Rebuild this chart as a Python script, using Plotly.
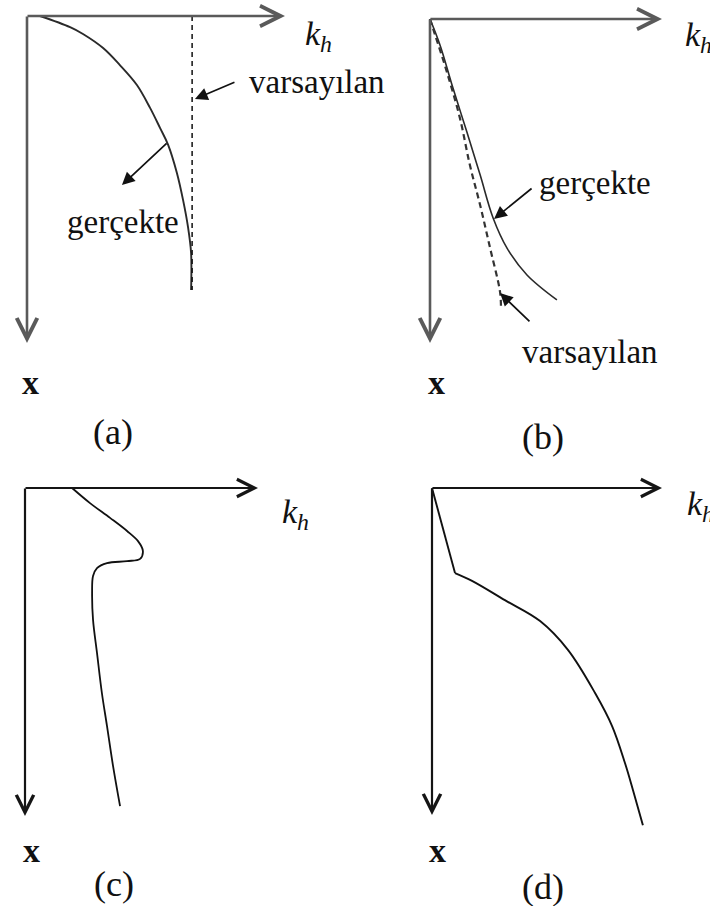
import plotly.graph_objects as go

# ---- curve data (k_h horizontally, depth x downward; 10 units = axis length) ----
# (a) real profile vs. assumed constant value
a_real_kh = [0.50, 1.67, 2.17, 2.95, 3.60, 4.26, 4.77, 5.16, 5.47, 5.81, 6.05, 6.24, 6.36, 6.36]
a_real_x = [0.00, 0.34, 0.55, 0.98, 1.50, 2.11, 2.81, 3.43, 3.94, 4.80, 5.63, 6.45, 7.25, 8.38]
a_assumed_kh = [6.40, 6.40]
a_assumed_x = [0.00, 8.38]

# (b) real profile vs. assumed linear increase
b_real_kh = [0.00, 0.43, 0.99, 1.59, 2.16, 2.72, 3.32, 4.18, 5.47]
b_real_x = [0.00, 0.80, 2.13, 3.49, 4.81, 6.14, 7.07, 7.90, 8.67]
b_assumed_kh = [0.00, 0.22, 0.73, 1.29, 1.72, 2.16, 2.59, 3.02, 3.06]
b_assumed_x = [0.00, 0.49, 1.64, 3.06, 4.51, 5.74, 7.07, 8.43, 8.98]

# (c) profile with a bulge near the surface
c_kh = [2.02, 2.79, 3.65, 4.38, 4.85, 5.06, 4.94, 4.38, 3.52, 3.09, 2.92,
        2.88, 2.92, 3.09, 3.30, 3.52, 3.78, 4.08]
c_x = [0.00, 0.46, 0.91, 1.31, 1.62, 1.92, 2.16, 2.23, 2.29, 2.44, 2.68,
       3.20, 4.02, 5.03, 6.25, 7.26, 8.48, 9.70]

# (d) linear top layer followed by a curved increase
d_top_kh = [0.00, 1.00]
d_top_x = [0.00, 2.60]
d_low_kh = [1.00, 1.74, 3.17, 4.70, 5.91, 7.09, 7.83, 8.39, 8.74, 9.17]
d_low_x = [2.60, 2.84, 3.43, 4.07, 4.95, 6.27, 7.28, 8.41, 9.24, 10.31]

panel_names = ["a", "b", "c", "d"]
axis_label = "<i>k</i><sub><i>h</i></sub>"
depth_label = "x"

# ---- panel geometry (pixels on a 710 x 906 page) ----
W, H = 710, 906
panels = {
    "a": dict(quad=(0, 355, 0, 453), origin=(27, 16), tip=(285, 343), axcol="#5a5a5a", axw=2.6),
    "b": dict(quad=(355, 710, 0, 453), origin=(430, 19), tip=(662, 343), axcol="#5a5a5a", axw=2.6),
    "c": dict(quad=(0, 355, 453, 906), origin=(25, 488), tip=(258, 816), axcol="#151515", axw=2.2),
    "d": dict(quad=(355, 710, 453, 906), origin=(432, 488), tip=(662, 815), axcol="#151515", axw=2.2),
}

FONT = "Liberation Serif"
FS = 33

fig = go.Figure()
layout = dict(
    width=W, height=H, margin=dict(l=0, r=0, t=0, b=0),
    paper_bgcolor="white", plot_bgcolor="white", showlegend=False,
)
annotations = []

for i, name in enumerate(panel_names, start=1):
    p = panels[name]
    qx0, qx1, qy0, qy1 = p["quad"]
    ox, oy = p["origin"]
    tx, ty = p["tip"]
    sx = 10.0 / (tx - ox)
    sy = 10.0 / (ty - oy)
    xa = "xaxis" if i == 1 else f"xaxis{i}"
    ya = "yaxis" if i == 1 else f"yaxis{i}"
    xr = "x" if i == 1 else f"x{i}"
    yr = "y" if i == 1 else f"y{i}"
    hidden = dict(showgrid=False, zeroline=False, showline=False,
                  showticklabels=False, ticks="", fixedrange=True)
    layout[xa] = dict(domain=[qx0 / W, qx1 / W],
                      range=[(qx0 - ox) * sx, (qx1 - ox) * sx],
                      anchor=yr, **hidden)
    layout[ya] = dict(domain=[1 - qy1 / H, 1 - qy0 / H],
                      range=[(qy1 - oy) * sy, (qy0 - oy) * sy],
                      anchor=xr, **hidden)

    # coordinate axes drawn as open-headed arrows from the origin
    for (hx, hy) in [(10, 0), (0, 10)]:
        annotations.append(dict(
            xref=xr, yref=yr, axref=xr, ayref=yr,
            x=hx, y=hy, ax=0, ay=0, text="", font=dict(size=1), borderpad=0,
            showarrow=True, arrowhead=5, arrowwidth=p["axw"], arrowsize=1.55,
            arrowcolor=p["axcol"],
        ))

    p["xr"], p["yr"] = xr, yr


def line(name, xs, ys, color="#222", width=1.8, dash=None, shape="spline"):
    p = panels[name]
    fig.add_trace(go.Scatter(
        x=xs, y=ys, mode="lines", xaxis=p["xr"], yaxis=p["yr"],
        line=dict(color=color, width=width, dash=dash, shape=shape, smoothing=1.0),
        hoverinfo="skip",
    ))


line("a", a_real_kh, a_real_x, color="#2a2a2a", width=1.9)
line("a", a_assumed_kh, a_assumed_x, color="#111", width=1.5, dash="5px,4px", shape="linear")
line("b", b_real_kh, b_real_x, color="#2a2a2a", width=1.6)
line("b", b_assumed_kh, b_assumed_x, color="#333", width=2.2, dash="6px,4px")
line("c", c_kh, c_x, color="#111", width=1.8)
line("d", d_top_kh, d_top_x, color="#111", width=1.9, shape="linear")
line("d", d_low_kh, d_low_x, color="#111", width=1.9)


def label(name, x, y, text, xanchor="center", size=FS):
    p = panels[name]
    annotations.append(dict(
        xref=p["xr"], yref=p["yr"], x=x, y=y, text=text, showarrow=False,
        xanchor=xanchor, yanchor="middle",
        font=dict(family=FONT, size=size, color="#111"),
    ))


def pointer(name, tail, head):
    p = panels[name]
    annotations.append(dict(
        xref=p["xr"], yref=p["yr"], axref=p["xr"], ayref=p["yr"],
        x=head[0], y=head[1], ax=tail[0], ay=tail[1],
        text="", font=dict(size=1), borderpad=0,
        showarrow=True, arrowhead=2, arrowwidth=1.7, arrowsize=1.5,
        arrowcolor="#111",
    ))


# axis names and panel captions
axis_label_pos = {"a": (10.70, 0.62), "b": (10.91, 0.55), "c": (10.94, 0.80), "d": (11.00, 0.55)}
depth_label_pos = {"a": (0.12, 11.22), "b": (0.30, 11.23), "c": (0.30, 11.04), "d": (0.22, 11.10)}
caption_pos = {"a": (3.33, 12.72), "b": (4.87, 12.90), "c": (3.82, 12.07), "d": (4.83, 12.20)}
for name in panel_names:
    label(name, *axis_label_pos[name], axis_label, xanchor="left", size=34)
    label(name, *depth_label_pos[name], f"<b>{depth_label}</b>", size=34)
    label(name, *caption_pos[name], f"({name})", size=36)

# curve call-outs
label("a", 8.53, 2.02, "varsayılan", xanchor="left")
pointer("a", (8.06, 2.02), (6.51, 2.54))
label("a", 1.47, 6.30, "gerçekte", xanchor="left")
pointer("a", (5.43, 3.88), (3.68, 5.17))

label("b", 4.61, 5.06, "gerçekte", xanchor="left")
pointer("b", (4.40, 5.22), (2.76, 6.17))
label("b", 3.88, 10.28, "varsayılan", xanchor="left")
pointer("b", (4.31, 9.35), (3.02, 8.46))

layout["annotations"] = annotations
fig.update_layout(**layout)
fig.write_html("out.html")
